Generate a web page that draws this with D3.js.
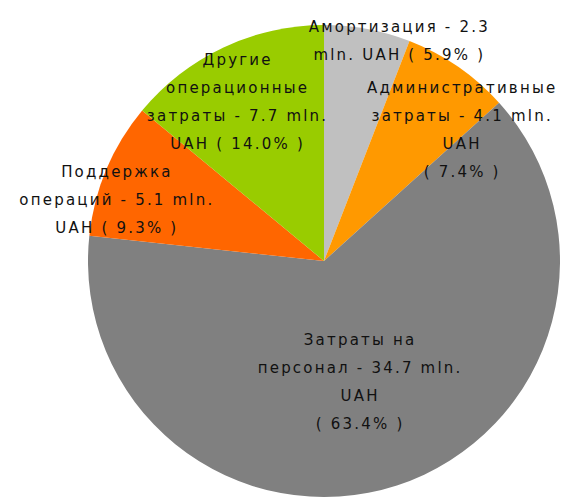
<!DOCTYPE html>
<html>
<head>
<meta charset="utf-8">
<script src="https://cdn.jsdelivr.net/npm/d3@7"></script>
<style>
  body { margin: 0; background: #fff; }
  svg text { font-family: "DejaVu Sans", Verdana, sans-serif; }
</style>
</head>
<body>
<svg id="chart" width="569" height="497"></svg>
<script>
// data
var categories = ['Амортизация', 'Административные затраты', 'Затраты на персонал', 'Поддержка операций', 'Другие операционные затраты'];
var valuesMln = [2.3, 4.1, 34.7, 5.1, 7.7];
var percents = [5.9, 7.4, 63.4, 9.3, 14.0];
var labelLines = [
  ['Амортизация - 2.3', 'mln. UAH ( 5.9% )'],
  ['Административные', 'затраты - 4.1 mln.', 'UAH', '( 7.4% )'],
  ['Затраты на', 'персонал - 34.7 mln.', 'UAH', '( 63.4% )'],
  ['Поддержка', 'операций - 5.1 mln.', 'UAH ( 9.3% )'],
  ['Другие', 'операционные', 'затраты - 7.7 mln.', 'UAH ( 14.0% )']
];

// layout
var colors = ['#c0c0c0', '#ff9900', '#808080', '#ff6600', '#99cc00'];
var cx = 324, cy = 261, radius = 236;
var labelRadius = [1.0, 0.82, 0.52, 0.92, 0.78];
var labelShift = [8, 11, 0.9, -5.4, -2.8]; // degrees off the slice middle
var lineH = 28;

var svg = d3.select('#chart');
var g = svg.append('g').attr('transform', 'translate(' + cx + ',' + cy + ')');

var items = categories.map(function(c, i) {
  return { name: c, value: valuesMln[i], pct: percents[i], lines: labelLines[i], i: i };
});

var pie = d3.pie().sort(null).value(function(d) { return d.pct; });
var arc = d3.arc().innerRadius(0).outerRadius(radius);
var arcs = pie(items);

g.selectAll('.slice')
  .data(arcs)
  .join('path')
  .attr('class', 'slice')
  .attr('d', arc)
  .attr('fill', function(d) { return colors[d.data.i]; });

var labels = g.selectAll('.lbl')
  .data(arcs)
  .join('text')
  .attr('class', 'lbl')
  .attr('text-anchor', 'middle')
  .attr('font-size', 15)
  .attr('letter-spacing', 2.2)
  .attr('fill', '#111')
  .attr('transform', function(d) {
    var a = (d.startAngle + d.endAngle) / 2 + labelShift[d.data.i] * Math.PI / 180;
    var r = radius * labelRadius[d.data.i];
    var x = Math.sin(a) * r;
    var y = -Math.cos(a) * r;
    return 'translate(' + x + ',' + y + ')';
  });

labels.each(function(d) {
  var t = d3.select(this);
  var n = d.data.lines.length;
  d.data.lines.forEach(function(line, k) {
    t.append('tspan')
      .attr('x', 0)
      .attr('y', (k - (n - 1) / 2) * lineH + 9)
      .text(line);
  });
});
</script>
</body>
</html>
